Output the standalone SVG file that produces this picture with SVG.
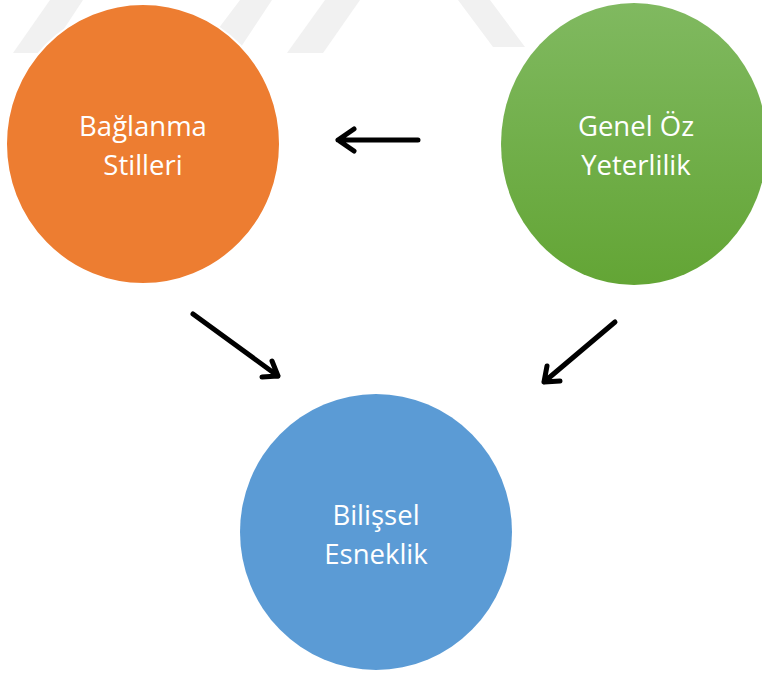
<svg xmlns="http://www.w3.org/2000/svg" width="762" height="673" viewBox="0 0 762 673">
<style>
.lbl{font-family:"Open Sans","Liberation Sans",sans-serif;font-size:27.5px;fill:#ffffff;text-anchor:middle}
.arr{stroke:#000;stroke-width:5;fill:none;stroke-linecap:round;stroke-linejoin:round}
.wm{fill:#f1f1f1}
</style>
<defs>
<linearGradient id="g" x1="0" y1="0" x2="0" y2="1">
<stop offset="0" stop-color="#80b960"/>
<stop offset="1" stop-color="#63a535"/>
</linearGradient>
</defs>
<rect width="762" height="673" fill="#fff"/>
<g id="watermark">
<polygon class="wm" points="50,0 83,0 48,53 13,53"/>
<polygon class="wm" points="240,0 272,0 237,53 200,53"/>
<polygon class="wm" points="325,0 360,0 323,53 287,53"/>
<polygon class="wm" points="458,0 490,0 525,47 493,47"/>
</g>
<g id="bagLanma">
<ellipse cx="143" cy="144" rx="137" ry="140" fill="#ED7D31" stroke="#fff" stroke-width="2"/>
<text class="lbl" x="143" y="136">Bağlanma</text>
<text class="lbl" x="143" y="175">Stilleri</text>
</g>
<g id="genelOz">
<ellipse cx="634" cy="144" rx="133" ry="141" fill="url(#g)"/>
<text class="lbl" x="636" y="136">Genel Öz</text>
<text class="lbl" x="636" y="175">Yeterlilik</text>
</g>
<g id="bilissel">
<ellipse cx="376" cy="532" rx="136" ry="138" fill="#5B9BD5"/>
<text class="lbl" x="376" y="525">Bilişsel</text>
<text class="lbl" x="376" y="564">Esneklik</text>
</g>
<g id="connectors">
<path class="arr" d="M418,140 L338,140 M354,129 L338,140 L354,151"/>
<path class="arr" d="M193,314 L278,376 M262,377 L278,376 L272,361"/>
<path class="arr" d="M615,322 L544,382 M547,366 L544,382 L560,381"/>
</g>
</svg>
